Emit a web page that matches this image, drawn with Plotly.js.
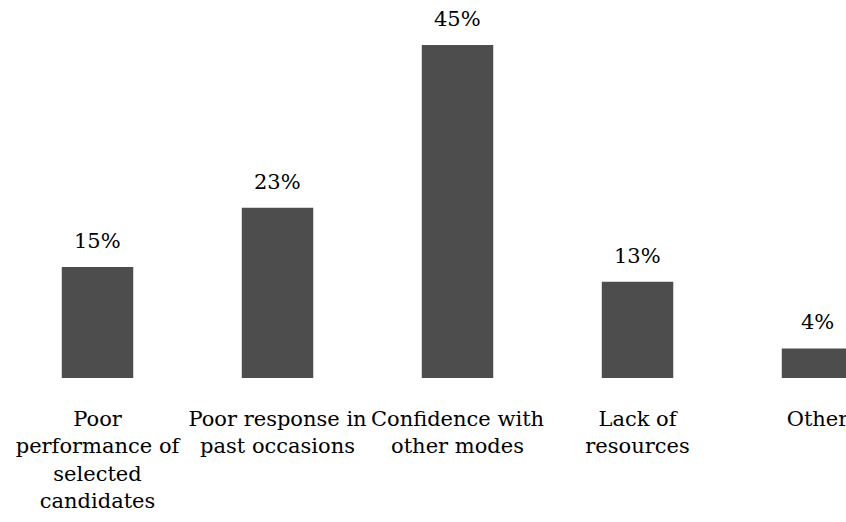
<!DOCTYPE html>
<html>
<head>
<meta charset="utf-8">
<script src="https://cdn.plot.ly/plotly-3.0.1.min.js"></script>
<style>html,body{margin:0;padding:0;background:#fff;}#chart{width:846px;height:522px;}</style>
</head>
<body>
<div id="chart"></div>
<script>
var categories = ["Poor<br>performance of<br>selected<br>candidates", "Poor response in<br>past occasions", "Confidence with<br>other modes", "Lack of<br>resources", "Other"];
var values = [15, 23, 45, 13, 4];
var valueLabels = ["15%", "23%", "45%", "13%", "4%"];

var labelFont = {family: "DejaVu Serif", size: 21, color: "#000"};
var tickFont = {family: "DejaVu Serif", size: 21, color: "#000"};

var trace = {
  type: "bar",
  x: categories,
  y: values,
  width: 0.397,
  marker: {color: "#4d4d4d", line: {width: 0}},
  hoverinfo: "skip"
};

var annotations = categories.map(function (c, i) {
  return {x: c, y: values[i], text: valueLabels[i], showarrow: false,
    xanchor: "center", yanchor: "middle", yshift: 26, font: labelFont};
});

var layout = {
  width: 846, height: 522,
  margin: {l: 0, r: 0, t: 0, b: 144, pad: 0},
  paper_bgcolor: "#fff", plot_bgcolor: "#fff",
  showlegend: false,
  font: tickFont,
  xaxis: {type: "category", range: [-0.5417, 4.1583], showgrid: false, zeroline: false,
    showline: false, ticks: "", tickfont: tickFont, ticklabelstandoff: 26, fixedrange: true},
  yaxis: {range: [0, 51.08], visible: false, fixedrange: true},
  annotations: annotations
};

Plotly.newPlot("chart", [trace], layout, {displayModeBar: false, staticPlot: true});
</script>
</body>
</html>
